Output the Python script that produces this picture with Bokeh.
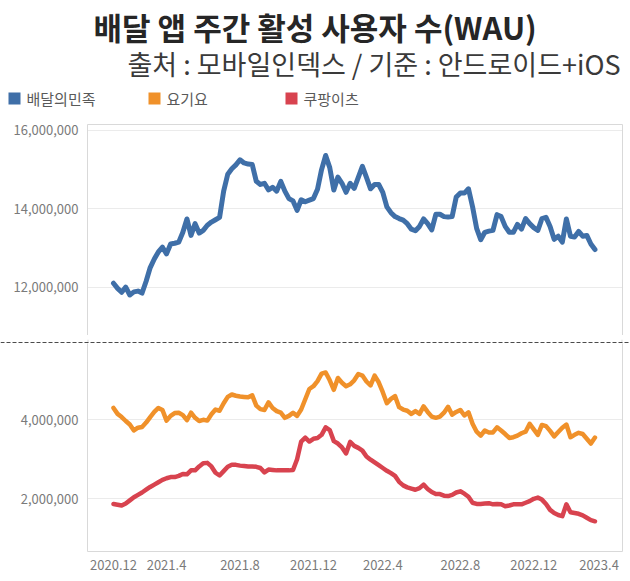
from bokeh.plotting import figure
from bokeh.layouts import column
from bokeh.models import Range1d, FixedTicker, NumeralTickFormatter, LinearAxis
from bokeh.core.properties import value
from bokeh.embed import file_html
from bokeh.resources import INLINE

FONT = "Noto Sans CJK KR"

title_text = "배달 앱 주간 활성 사용자 수(WAU)"
subtitle_text = "출처 : 모바일인덱스 / 기준 : 안드로이드+iOS"
series_names = ["배달의민족", "요기요", "쿠팡이츠"]
series_colors = ["#3F6FA8", "#F0912A", "#D8434F"]

tick_weeks = [0, 13, 31, 49, 66, 85, 103, 119]
tick_labels = ["2020.12", "2021.4", "2021.8", "2021.12", "2022.4", "2022.8", "2022.12", "2023.4"]

top_ticks = [12000000, 14000000, 16000000]
bottom_ticks = [2000000, 4000000]

# weekly active users, millions
baemin = [12.10, 11.97, 11.87, 12.00, 11.80, 11.88, 11.90, 11.85, 12.15, 12.50,
          12.72, 12.90, 13.02, 12.85, 13.10, 13.12, 13.15, 13.40, 13.74, 13.32,
          13.62, 13.38, 13.45, 13.58, 13.66, 13.72, 13.78, 14.45, 14.88, 15.02,
          15.12, 15.25, 15.17, 15.14, 15.13, 14.70, 14.62, 14.65, 14.48, 14.55,
          14.45, 14.70, 14.45, 14.26, 14.20, 13.96, 14.23, 14.18, 14.22, 14.26,
          14.50, 15.00, 15.36, 15.05, 14.48, 14.81, 14.65, 14.42, 14.65, 14.52,
          14.80, 15.08, 14.80, 14.51, 14.62, 14.62, 14.42, 14.05, 13.90, 13.80,
          13.75, 13.71, 13.62, 13.48, 13.44, 13.55, 13.74, 13.62, 13.46, 13.86,
          13.86, 13.80, 13.79, 13.80, 14.30, 14.40, 14.40, 14.51, 14.05, 13.50,
          13.21, 13.40, 13.43, 13.45, 13.85, 13.80, 13.55, 13.40, 13.40, 13.60,
          13.48, 13.75, 13.62, 13.52, 13.45, 13.75, 13.78, 13.55, 13.22, 13.30,
          13.15, 13.74, 13.30, 13.28, 13.42, 13.30, 13.32, 13.10, 12.96]

yogiyo = [4.30, 4.15, 4.07, 3.97, 3.88, 3.73, 3.80, 3.82, 3.93, 4.07,
          4.20, 4.30, 4.25, 3.98, 4.10, 4.17, 4.18, 4.12, 3.99, 4.18,
          4.05, 3.97, 4.00, 3.98, 4.14, 4.26, 4.23, 4.42, 4.58, 4.64,
          4.61, 4.59, 4.58, 4.57, 4.62, 4.36, 4.27, 4.25, 4.44, 4.30,
          4.22, 4.18, 4.05, 4.10, 4.18, 4.10, 4.26, 4.52, 4.78, 4.85,
          4.98, 5.17, 5.20, 5.00, 4.76, 5.06, 4.94, 4.85, 4.90, 5.00,
          5.16, 5.12, 4.97, 4.87, 5.12, 4.95, 4.70, 4.42, 4.53, 4.60,
          4.32, 4.26, 4.23, 4.15, 4.22, 4.15, 4.34, 4.20, 4.08, 4.05,
          4.08, 4.18, 4.33, 4.13, 4.20, 4.25, 4.11, 4.19, 3.90, 3.70,
          3.60, 3.73, 3.68, 3.68, 3.81, 3.73, 3.64, 3.54, 3.56, 3.60,
          3.66, 3.70, 3.90, 3.76, 3.62, 3.87, 3.84, 3.72, 3.58, 3.69,
          3.80, 3.88, 3.56, 3.62, 3.67, 3.64, 3.52, 3.40, 3.55]

coupang = [1.87, 1.85, 1.83, 1.88, 1.96, 2.04, 2.10, 2.16, 2.23, 2.30,
           2.36, 2.42, 2.48, 2.52, 2.55, 2.55, 2.58, 2.63, 2.62, 2.72,
           2.72, 2.82, 2.90, 2.91, 2.82, 2.66, 2.59, 2.70, 2.81, 2.86,
           2.86, 2.84, 2.83, 2.82, 2.82, 2.81, 2.78, 2.67, 2.74, 2.73,
           2.72, 2.72, 2.72, 2.72, 2.73, 3.00, 3.45, 3.55, 3.45, 3.52,
           3.54, 3.62, 3.81, 3.74, 3.46, 3.40, 3.30, 3.15, 3.44, 3.34,
           3.29, 3.22, 3.07, 2.99, 2.92, 2.85, 2.78, 2.71, 2.65, 2.58,
           2.43, 2.34, 2.29, 2.26, 2.23, 2.27, 2.36, 2.25, 2.17, 2.12,
           2.12, 2.08, 2.07, 2.10, 2.16, 2.19, 2.13, 2.05, 1.90, 1.87,
           1.87, 1.88, 1.89, 1.86, 1.87, 1.86, 1.81, 1.83, 1.86, 1.86,
           1.86, 1.90, 1.94, 2.00, 2.03, 1.98, 1.87, 1.72, 1.64, 1.59,
           1.56, 1.86, 1.66, 1.64, 1.62, 1.58, 1.52, 1.46, 1.43]

weeks = list(range(len(baemin)))
M = 1_000_000

W = 630
GRID = "#EBEBEB"
BORDER = "#D9D9D9"
LABEL = "#7A7A7A"


def free_frame(p):
    try:
        p.frame_align = False
    except Exception:
        pass


def bare_axis(p, side):
    ax = LinearAxis(ticker=FixedTicker(ticks=[]), major_tick_out=0, major_tick_in=0,
                    minor_tick_out=0, minor_tick_in=0, major_label_standoff=0,
                    axis_line_color=BORDER, major_tick_line_color=None,
                    minor_tick_line_color=None)
    p.add_layout(ax, side)


# ---------------- header ----------------
HDR_H = 118
hdr = figure(width=W, height=HDR_H, frame_width=W, frame_height=HDR_H,
             output_backend="svg", toolbar_location=None,
             x_range=Range1d(0, W), y_range=Range1d(HDR_H, 0),
             x_axis_location=None, y_axis_location=None,
             min_border=0, min_border_left=0, min_border_right=0,
             min_border_top=0, min_border_bottom=0)
free_frame(hdr)
hdr.grid.visible = False
hdr.outline_line_color = None
hdr.text(x=[93], y=[26], text=[title_text], text_font=value(FONT),
         text_font_size="31px", text_font_style="bold", text_color="#262626",
         text_align="left", text_baseline="middle")
hdr.text(x=[127], y=[63], text=[subtitle_text], text_font=value(FONT),
         text_font_size="27px", text_color="#3A3A3A",
         text_align="left", text_baseline="middle")
leg_x = [14, 154, 291]
hdr.scatter(x=leg_x, y=[98, 98, 98], marker="square", size=12,
            color=series_colors, line_color=None)
hdr.text(x=[v + 12 for v in leg_x], y=[98, 98, 98], text=series_names,
         text_font=value(FONT), text_font_size="15px", text_color="#595959",
         text_align="left", text_baseline="middle")

x_range = Range1d(-6.37, 124.75)


def style_y(p, ticks):
    ax = p.yaxis[0]
    ax.ticker = FixedTicker(ticks=ticks)
    ax.formatter = NumeralTickFormatter(format="0,0")
    ax.major_label_text_font = FONT
    ax.major_label_text_font_size = "13px"
    ax.major_label_text_color = LABEL
    ax.major_tick_line_color = None
    ax.minor_tick_line_color = None
    ax.major_tick_out = 0
    ax.minor_tick_out = 0
    ax.axis_line_color = BORDER
    ax.major_label_standoff = 9
    p.ygrid.grid_line_color = GRID
    p.xgrid.grid_line_color = None
    p.outline_line_color = None
    bare_axis(p, "right")


# ---------------- top panel ----------------
top = figure(width=W, height=217, output_backend="svg", toolbar_location=None,
             x_range=x_range, y_range=Range1d(10.767 * M, 16.15 * M),
             x_axis_location=None,
             min_border_left=87, min_border_right=8, min_border_top=6, min_border_bottom=0)
style_y(top, top_ticks)
bare_axis(top, "above")
top.line(weeks, [v * M for v in baemin], line_color=series_colors[0], line_width=5,
         line_join="round", line_cap="round")

# ---------------- separator ----------------
SEP_H = 8
sep = figure(width=W, height=SEP_H, frame_width=W, frame_height=SEP_H, title=None,
             output_backend="svg", toolbar_location=None,
             x_range=Range1d(0, W), y_range=Range1d(0, SEP_H),
             x_axis_location=None, y_axis_location=None,
             min_border=0, min_border_left=0, min_border_right=0,
             min_border_top=0, min_border_bottom=0)
free_frame(sep)
sep.grid.visible = False
sep.outline_line_color = None
sep.multi_line(xs=[[87.5, 87.5], [621.5, 621.5]], ys=[[0, SEP_H], [0, SEP_H]],
               line_color=BORDER, line_width=1)
sep.line(x=[0, W], y=[4, 4], line_color="#111111", line_width=2.5, line_dash="4 2")

# ---------------- bottom panel ----------------
bot = figure(width=W, height=238, output_backend="svg", toolbar_location=None,
             x_range=x_range, y_range=Range1d(0.666 * M, 5.932 * M),
             min_border_left=87, min_border_right=8, min_border_top=0, min_border_bottom=30)
style_y(bot, bottom_ticks)
xa = bot.xaxis[0]
xa.ticker = FixedTicker(ticks=tick_weeks)
xa.major_label_overrides = {t: l for t, l in zip(tick_weeks, tick_labels)}
xa.major_label_text_font = FONT
xa.major_label_text_font_size = "13px"
xa.major_label_text_color = LABEL
xa.major_tick_line_color = None
xa.minor_tick_line_color = None
xa.major_tick_out = 0
xa.minor_tick_out = 0
xa.axis_line_color = BORDER
xa.major_label_standoff = 8

bot.line(weeks, [v * M for v in yogiyo], line_color=series_colors[1], line_width=4.5,
         line_join="round", line_cap="round")
bot.line(weeks, [v * M for v in coupang], line_color=series_colors[2], line_width=4.5,
         line_join="round", line_cap="round")

layout = column(hdr, top, sep, bot, spacing=0)
open("out.html", "w").write(file_html(layout, INLINE))
